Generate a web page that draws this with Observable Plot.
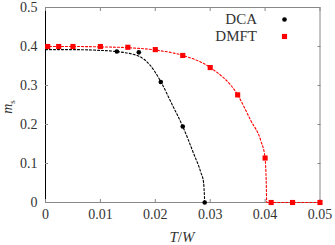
<!DOCTYPE html>
<html><head><meta charset="utf-8">
<script src="https://cdn.jsdelivr.net/npm/d3@7"></script>
<script src="https://cdn.jsdelivr.net/npm/@observablehq/plot@0.6"></script>
<style>body{margin:0;background:#fff}#chart{position:relative;width:335px;height:245px}</style>
</head><body><div id="chart"></div>
<script>
const seriesNames = ["DCA", "DMFT"];
const seriesColors = ["#000000", "#ff0000"];
const dcaT = [0.013, 0.017, 0.021, 0.025, 0.029];
const dcaM = [0.387, 0.385, 0.309, 0.195, 0];
const dmftT = [0.0004, 0.0024, 0.005, 0.01, 0.015, 0.02, 0.025, 0.03, 0.035, 0.04, 0.0411, 0.045, 0.05];
const dmftM = [0.400, 0.400, 0.400, 0.400, 0.398, 0.392, 0.377, 0.346, 0.276, 0.114, 0, 0, 0];
const dcaFitT = [0, 0.005, 0.01, 0.013, 0.017, 0.019, 0.021, 0.023, 0.025, 0.027, 0.0283, 0.0288, 0.0289, 0.029];
const dcaFitM = [0.392, 0.392, 0.390, 0.387, 0.375, 0.353, 0.31, 0.253, 0.195, 0.125, 0.077, 0.051, 0.03, 0];
const dmftFitT = [0, 0.005, 0.01, 0.015, 0.02, 0.025, 0.03, 0.035, 0.0374, 0.0392, 0.04, 0.0402, 0.0403, 0.045, 0.05];
const dmftFitM = [0.4, 0.4, 0.399, 0.397, 0.391, 0.377, 0.346, 0.276, 0.21, 0.159, 0.114, 0.056, 0, 0, 0];
const xTicks = [0, 0.01, 0.02, 0.03, 0.04, 0.05];
const xTickLabels = ["0", "0.01", "0.02", "0.03", "0.04", "0.05"];
const yTicks = [0, 0.1, 0.2, 0.3, 0.4, 0.5];
const yTickLabels = ["0", "0.1", "0.2", "0.3", "0.4", "0.5"];

const zip = (xs, ys) => xs.map((x, i) => ({x, y: ys[i]}));
const dca = zip(dcaT, dcaM), dmft = zip(dmftT, dmftM);
const dcaFit = zip(dcaFitT, dcaFitM), dmftFit = zip(dmftFitT, dmftFitM);
const font = "'Liberation Serif', 'Times New Roman', serif";
const gray = "#888";
const textColor = "#333";

const plot = Plot.plot({
  width: 335, height: 245,
  marginLeft: 45, marginRight: 15.5, marginTop: 7, marginBottom: 43,
  style: {fontFamily: font, fontSize: "14px", color: textColor, background: "#fff"},
  x: {domain: [0, 0.05]},
  y: {domain: [0, 0.5]},
  marks: [
    Plot.frame({stroke: gray}),
    Plot.ruleX([xTicks[0]], {stroke: "#000"}),
    Plot.axisX({anchor: "bottom", ticks: xTicks, tickSize: -3, tickPadding: 10, stroke: gray,
      tickFormat: (d) => xTickLabels[xTicks.indexOf(d)], label: null, fill: textColor, fontSize: 14}),
    Plot.axisX({anchor: "top", ticks: xTicks, tickSize: -3, stroke: gray, tickFormat: () => "", label: null}),
    Plot.axisY({anchor: "left", ticks: yTicks, tickSize: -3, tickPadding: 11, stroke: gray,
      tickFormat: (d) => yTickLabels[yTicks.indexOf(d)], label: null, fill: textColor, fontSize: 14}),
    Plot.axisY({anchor: "right", ticks: yTicks, tickSize: -3, stroke: gray, tickFormat: () => "", label: null}),
    Plot.line(dcaFit, {x: "x", y: "y", curve: "monotone-x", stroke: seriesColors[0], strokeWidth: 1.1, strokeDasharray: "2,2"}),
    Plot.line(dmftFit, {x: "x", y: "y", curve: "monotone-x", stroke: seriesColors[1], strokeWidth: 1.1, strokeDasharray: "2,2"}),
    Plot.dot(dca, {x: "x", y: "y", r: 2.3, fill: seriesColors[0], stroke: null}),
    Plot.dot(dmft, {x: "x", y: "y", r: 2.9, symbol: "square", fill: seriesColors[1], stroke: null}),
    Plot.text([seriesNames[0]], {text: d => d, frameAnchor: "top-right", dx: -63, dy: 12, textAnchor: "end", lineAnchor: "middle", fontSize: 15, fill: textColor}),
    Plot.text([seriesNames[1]], {text: d => d, frameAnchor: "top-right", dx: -63, dy: 29, textAnchor: "end", lineAnchor: "middle", fontSize: 15, fill: textColor}),
    Plot.dot([seriesNames[0]], {frameAnchor: "top-right", dx: -35.5, dy: 12, r: 2.3, fill: seriesColors[0], stroke: null}),
    Plot.dot([seriesNames[1]], {frameAnchor: "top-right", dx: -35.5, dy: 29, r: 2.9, symbol: "square", fill: seriesColors[1], stroke: null})
  ]
});
document.getElementById("chart").appendChild(plot);

const svg = d3.select(plot);
const xl = svg.append("text").attr("x", 182).attr("y", 242).attr("text-anchor", "middle")
  .attr("font-family", font).attr("font-size", 15).attr("fill", textColor);
xl.append("tspan").attr("font-style", "italic").text("T");
xl.append("tspan").text("/");
xl.append("tspan").attr("font-style", "italic").text("W");
const yl = svg.append("text").attr("transform", "translate(12,107) rotate(-90)").attr("text-anchor", "middle")
  .attr("font-family", font).attr("font-size", 14).attr("fill", textColor);
yl.append("tspan").attr("font-style", "italic").text("m");
yl.append("tspan").attr("font-size", 9).attr("dy", 3).text("s");
</script></body></html>
